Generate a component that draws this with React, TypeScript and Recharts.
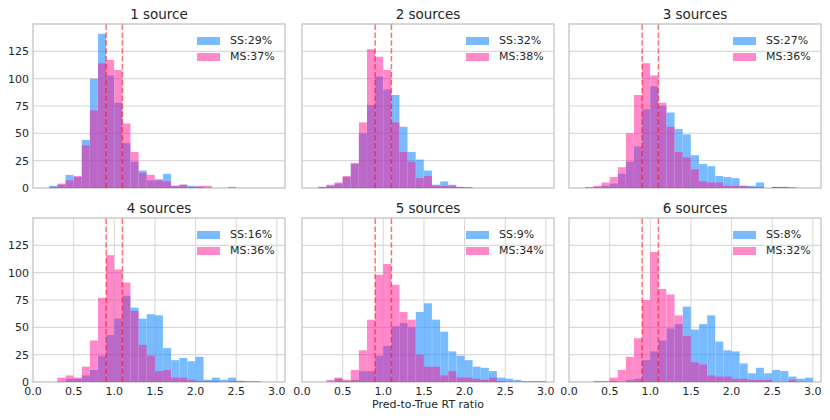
import React from 'react';
import { BarChart, Bar, XAxis, YAxis, CartesianGrid, ReferenceLine, ReferenceArea, Legend } from 'recharts';

// ---------- data ----------
const binStarts = [
  0.0, 0.1, 0.2, 0.3, 0.4, 0.5, 0.6, 0.7, 0.8, 0.9,
  1.0, 1.1, 1.2, 1.3, 1.4, 1.5, 1.6, 1.7, 1.8, 1.9,
  2.0, 2.1, 2.2, 2.3, 2.4, 2.5, 2.6, 2.7, 2.8, 2.9, 3.0,
];
const xTicks = [0, 0.5, 1.0, 1.5, 2.0, 2.5, 3.0];
const yTicks = [0, 25, 50, 75, 100, 125];
const thresholds = [0.9, 1.1];

const titles = ['1 source', '2 sources', '3 sources', '4 sources', '5 sources', '6 sources'];
const ssPct = [29, 32, 27, 16, 9, 8];
const msPct = [37, 38, 36, 36, 34, 32];
const seriesOrder = ['ss', 'ms'];

const ss1 = [0, 0, 2, 3, 12, 10, 44, 100, 141, 103, 78, 41, 24, 16, 7, 8, 13, 2, 3, 2, 1, 0, 0, 0, 1, 0, 0, 0, 0, 0, 0];
const ms1 = [0, 0, 1, 4, 7, 11, 39, 71, 114, 117, 108, 59, 33, 14, 12, 7, 6, 2, 3, 1, 2, 2, 0, 0, 0, 0, 0, 0, 0, 0, 0];

const ss2 = [0, 0, 1, 2, 4, 10, 22, 50, 76, 102, 90, 85, 56, 33, 26, 16, 3, 6, 3, 1, 1, 0, 0, 0, 0, 0, 0, 0, 0, 0, 0];
const ms2 = [0, 0, 1, 3, 5, 11, 23, 60, 127, 120, 108, 60, 33, 24, 9, 11, 2, 2, 2, 1, 0, 0, 0, 0, 0, 0, 0, 0, 0, 0, 0];

const ss3 = [0, 0, 0, 1, 2, 4, 13, 24, 38, 72, 93, 75, 69, 54, 49, 30, 22, 20, 11, 10, 9, 2, 2, 5, 0, 1, 1, 1, 0, 0, 0];
const ms3 = [0, 0, 1, 2, 5, 10, 19, 50, 85, 114, 103, 78, 56, 33, 28, 17, 6, 5, 5, 2, 2, 2, 1, 1, 0, 1, 1, 0, 0, 0, 0];

const ss4 = [0, 0, 0, 0, 3, 3, 6, 11, 24, 43, 58, 79, 68, 58, 62, 61, 31, 20, 22, 19, 23, 2, 4, 2, 4, 1, 1, 1, 0, 0, 0];
const ms4 = [0, 0, 0, 4, 6, 4, 14, 38, 77, 116, 103, 91, 65, 34, 24, 10, 11, 4, 4, 2, 1, 1, 1, 0, 1, 1, 0, 0, 0, 0, 0];

const ss5 = [0, 0, 0, 0, 3, 1, 2, 10, 10, 24, 33, 51, 54, 50, 64, 72, 57, 46, 28, 24, 20, 14, 13, 10, 4, 3, 2, 1, 1, 1, 0];
const ms5 = [0, 0, 0, 2, 4, 2, 11, 29, 57, 98, 108, 89, 64, 57, 25, 14, 14, 6, 10, 4, 4, 3, 2, 4, 1, 0, 0, 0, 0, 0, 0];

const ss6 = [0, 0, 0, 0, 0, 1, 0, 2, 3, 20, 28, 38, 49, 53, 69, 48, 53, 61, 37, 29, 28, 17, 8, 13, 8, 11, 10, 5, 3, 4, 0];
const ms6 = [0, 0, 0, 1, 1, 4, 11, 23, 40, 75, 119, 85, 80, 61, 42, 18, 16, 6, 5, 5, 3, 3, 2, 2, 2, 0, 0, 2, 0, 0, 0];

const ssSeries = [ss1, ss2, ss3, ss4, ss5, ss6];
const msSeries = [ms1, ms2, ms3, ms4, ms5, ms6];

// ---------- style / layout ----------
const SS_FILL = 'rgba(30,144,255,0.6)';
const MS_FILL = 'rgba(255,20,147,0.5)';
const GRID = '#d9d9d9';
const FRAME = '#cfcfcf';
const TEXT = '#262626';
const FONT = '"DejaVu Sans", "Liberation Sans", sans-serif';

const PLOT_LEFTS = [33, 302, 569];
const PLOT_TOPS = [24, 218];
const PLOT_W = 252;
const PLOT_H = 164;
const Y_AXIS_W = 34;
const X_AXIS_H = 20;
const X_MAX = 3.1;
const Y_MAX = 150;

const renderLegend = (props: any) => {
  const payload = [...(props.payload || [])].sort(
    (a: any, b: any) => seriesOrder.indexOf(String(a.dataKey)) - seriesOrder.indexOf(String(b.dataKey))
  );
  return (
    <div style={{ fontFamily: FONT, fontSize: 11, color: TEXT }}>
      {payload.map((e: any) => (
        <div key={String(e.value)} style={{ display: 'flex', alignItems: 'center', height: 16.5 }}>
          <span style={{ display: 'inline-block', width: 23, height: 8, background: e.color, marginRight: 10 }} />
          <span style={{ lineHeight: '16px' }}>{e.value}</span>
        </div>
      ))}
    </div>
  );
};

function Panel({ idx }: { idx: number }) {
  const col = idx % 3;
  const row = Math.floor(idx / 3);
  const plotLeft = PLOT_LEFTS[col];
  const plotTop = PLOT_TOPS[row];
  const chartLeft = plotLeft - Y_AXIS_W;
  const chartTop = plotTop - 2;
  const chartW = Y_AXIS_W + PLOT_W + 4;
  const chartH = 2 + PLOT_H + X_AXIS_H + 2;
  const ss = ssSeries[idx];
  const ms = msSeries[idx];
  const rows = binStarts.map((x, i) => ({ x, bin: x.toFixed(1), ss: ss[i], ms: ms[i] }));
  const tickStyle = { fontSize: 11, fill: TEXT, fontFamily: FONT };

  return (
    <>
      <div
        style={{
          position: 'absolute',
          left: plotLeft,
          top: plotTop - 18,
          width: PLOT_W,
          textAlign: 'center',
          fontSize: 13.5,
          lineHeight: '16px',
          color: TEXT,
          fontFamily: FONT,
        }}
      >
        {titles[idx]}
      </div>
      <div style={{ position: 'absolute', left: chartLeft, top: chartTop }}>
        <BarChart
          width={chartW}
          height={chartH}
          data={rows}
          margin={{ top: 2, right: 4, bottom: 2, left: col === 0 ? 0 : Y_AXIS_W }}
          barCategoryGap={0}
          barGap={0}
        >
          <CartesianGrid stroke={GRID} strokeWidth={1.1} />
          <XAxis
            type="number"
            dataKey="x"
            domain={[0, X_MAX]}
            allowDataOverflow
            ticks={xTicks}
            interval={0}
            tickFormatter={(v: number) => v.toFixed(1)}
            axisLine={false}
            tickLine={false}
            tickSize={0}
            tickMargin={5}
            height={X_AXIS_H}
            tick={row === 1 ? tickStyle : false}
          />
          <XAxis xAxisId="ss" type="category" dataKey="bin" hide />
          <XAxis xAxisId="ms" type="category" dataKey="bin" hide />
          <YAxis
            type="number"
            domain={[0, Y_MAX]}
            allowDataOverflow
            ticks={yTicks}
            interval={0}
            axisLine={false}
            tickLine={false}
            tickSize={0}
            tickMargin={4}
            width={Y_AXIS_W}
            tick={tickStyle}
            hide={col !== 0}
          />
          <Bar xAxisId="ss" dataKey="ss" name={`SS:${ssPct[idx]}%`} fill={SS_FILL} isAnimationActive={false} />
          <Bar xAxisId="ms" dataKey="ms" name={`MS:${msPct[idx]}%`} fill={MS_FILL} isAnimationActive={false} />
          {thresholds.map((t) => (
            <ReferenceLine
              key={t}
              x={t}
              stroke="rgb(255,0,0)"
              strokeOpacity={0.55}
              strokeWidth={1.5}
              strokeDasharray="5.5 2.4"
            />
          ))}
          <ReferenceArea x1={0} x2={X_MAX} y1={0} y2={Y_MAX} fill="none" stroke={FRAME} strokeWidth={1.3} />
          <Legend
            layout="vertical"
            align="center"
            verticalAlign="middle"
            content={renderLegend}
            wrapperStyle={{ position: 'absolute', left: Y_AXIS_W + PLOT_W - 88, top: 10.25, width: 90 }}
          />
        </BarChart>
      </div>
    </>
  );
}

export default function App() {
  return (
    <div
      style={{
        position: 'absolute',
        left: 0,
        top: 0,
        width: 830,
        height: 420,
        background: '#ffffff',
        fontFamily: FONT,
        overflow: 'hidden',
      }}
    >
      {titles.map((_, i) => (
        <Panel key={i} idx={i} />
      ))}
      <div
        style={{
          position: 'absolute',
          left: PLOT_LEFTS[1],
          top: 398,
          width: PLOT_W,
          textAlign: 'center',
          fontSize: 11,
          lineHeight: '14px',
          color: TEXT,
          fontFamily: FONT,
        }}
      >
        Pred-to-True RT ratio
      </div>
    </div>
  );
}
